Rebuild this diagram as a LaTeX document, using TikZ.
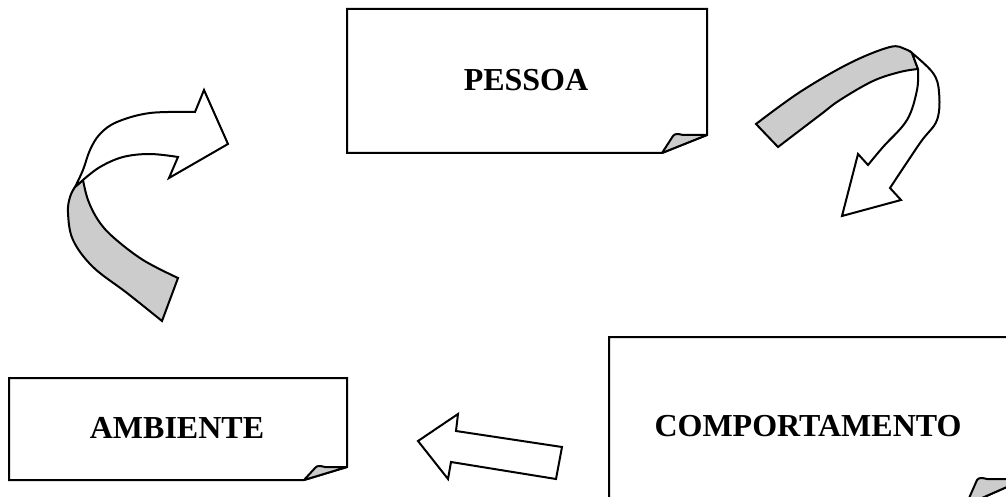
\documentclass[tikz,border=0pt]{standalone}
\usepackage{fontspec}
\setmainfont{Liberation Serif}
\usepackage{tikz}
\usetikzlibrary{positioning,calc}

\definecolor{foldgray}{HTML}{CCCCCC}

% sheet of paper with a turned-up corner: #1,#2 top left, #3,#4 bottom right,
% #5 where the bottom edge stops, #6 where the right edge stops
\newcommand{\dogear}[6]{%
	\draw[sheet] (#1,#2) -- (#3,#2) -- (#3,#6) -- (#5,#4) -- (#1,#4) -- cycle;
	\filldraw[curl] (#5,#4) -- ($(#5,#6)+(11,1)$) .. controls ($(#5,#6)+(13,-2)$) and ($(#5,#6)+(17,-1)$) .. ($(#5,#6)+(21,0)$) -- (#3,#6) -- cycle;
}

\begin{document}
\begin{tikzpicture}[x=1pt,y=-1pt]
	
	\tikzset{
		sheet/.style={draw=black, fill=white, line width=2pt, line join=miter},
		curl/.style={draw=black, fill=foldgray, line width=2pt, line join=round},
		ribbon front/.style={draw=black, fill=white, line width=2pt, line join=miter},
		ribbon back/.style={draw=black, fill=foldgray, line width=2pt, line join=miter},
		label/.style={font=\bfseries\fontsize{32}{36}\selectfont, inner sep=0pt}
	}
	
	\useasboundingbox[fill=white] (0,0) rectangle (1006,497);
	\clip (0,0) rectangle (1006,497);
	
	% the three sheets
	\dogear{347}{9}{707}{153}{662}{135}
	\dogear{9}{378}{347}{480}{304}{467}
	\dogear{609}{337}{1025}{505}{966}{479}
	
	\node[label] (pessoa) at (526,80) {PESSOA};
	\node[label] (ambiente) at (177,428) {AMBIENTE};
	\node[label] (comportamento) at (808,426) {COMPORTAMENTO};
	
	% ribbon arrow on the left, twisted at its bend
	\filldraw[ribbon back] (83,180)
		-- plot[smooth, tension=0.6] coordinates {(83,180) (88,200) (98,220) (113,237) (143,260) (178,278)}
		-- (162,321)
		-- plot[smooth, tension=0.6] coordinates {(162,321) (127,293) (93,267) (73,240) (68,213) (70,197) (75,187)}
		-- cycle;
	\filldraw[ribbon front] (195,112)
		-- plot[smooth, tension=0.6] coordinates {(195,112) (150,113) (117,122) (100,134) (90,150) (83,170) (75,187)}
		-- (83,180)
		-- plot[smooth, tension=0.6] coordinates {(83,180) (100,167) (123,157) (150,154) (178,157)}
		-- (169,178) -- (228,144) -- (204,90) -- cycle;
	
	% ribbon arrow on the right
	\filldraw[ribbon back] (756,124)
		-- plot[smooth, tension=0.6] coordinates {(756,124) (800,92) (850,63) (890,47) (905,49) (912,53)}
		-- (918,69)
		-- plot[smooth, tension=0.6] coordinates {(918,69) (900,72) (873,81) (840,100) (820,115) (778,147)}
		-- cycle;
	\filldraw[ribbon front] (912,53)
		-- plot[smooth, tension=0.6] coordinates {(912,53) (933,73) (939,92) (937,120) (920,143) (890,188)}
		-- (901,200) -- (842,216) -- (858,154) -- (868,165)
		-- plot[smooth, tension=0.6] coordinates {(868,165) (883,147) (907,120) (917,90) (918,69)}
		-- cycle;
	
	% straight arrow towards AMBIENTE
	\filldraw[ribbon front] (562,447) -- (456,431) -- (458,414) -- (418,441)
		-- (448,479) -- (451,462) -- (556,479) -- cycle;
	
\end{tikzpicture}
\end{document}
